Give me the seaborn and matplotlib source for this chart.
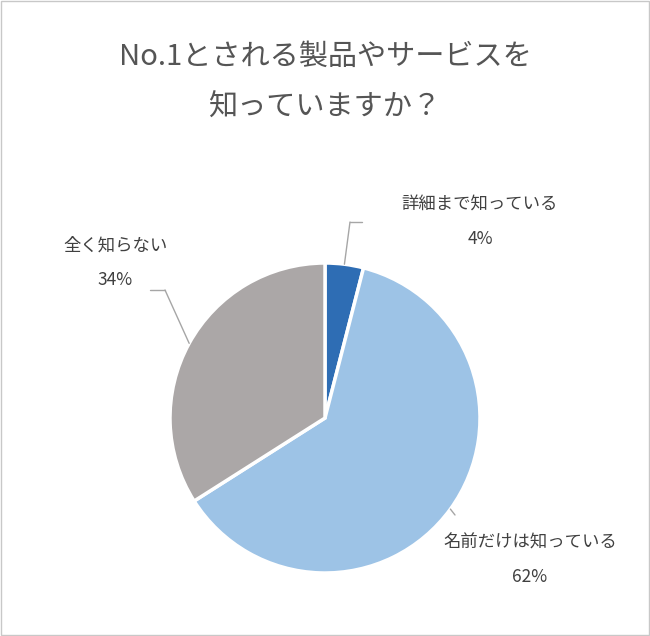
import numpy as np
import matplotlib
matplotlib.use("Agg")
import matplotlib.pyplot as plt
import seaborn as sns

labels = ["詳細まで知っている", "名前だけは知っている", "全く知らない"]
values = [4, 62, 34]
colors = ["#2E6DB4", "#9DC3E6", "#ABA7A7"]
title = "No.1とされる製品やサービスを\n知っていますか？"

sns.set_theme(style="white")
plt.rcParams['font.family'] = ['Noto Sans CJK JP', 'DejaVu Sans']

fig = plt.figure(figsize=(6.5, 6.36), dpi=100)
ax = fig.add_axes([0, 0, 1, 1])
ax.set_xlim(0, 650); ax.set_ylim(0, 636); ax.axis('off')
ax.add_patch(plt.Rectangle((1, 1), 648, 634, fill=False, ec="#C8C8C8", lw=1))

cx, cy, r = 325, 636 - 418, 155
wedges, _ = ax.pie(values, colors=colors, startangle=90, counterclock=False,
                   center=(cx, cy), radius=r, frame=True,
                   wedgeprops=dict(edgecolor="white", linewidth=2.5))
ax.set_xlim(0, 650); ax.set_ylim(0, 636); ax.axis('off')
ax.set_aspect('equal')

ax.text(325, 636 - 82, title, ha='center', va='center', fontsize=21,
        color="#555555", linespacing=1.9)

# label positions (pixel coords) and leader line elbows
lab_pos = [(480, 636 - 222), (530, 636 - 560), (115, 636 - 263)]
elbows = [(350, 636 - 222), (455, 636 - 515), (165, 636 - 290)]
for w, lab, v, lp, el in zip(wedges, labels, values, lab_pos, elbows):
    th = np.deg2rad((w.theta1 + w.theta2) / 2)
    ex, ey = cx + r * np.cos(th), cy + r * np.sin(th)
    ax.plot([ex, el[0]], [ey, el[1]], color="#A6A6A6", lw=1)
    if el[0] < cx:
        ax.plot([el[0], el[0] - 15], [el[1], el[1]], color="#A6A6A6", lw=1)
    else:
        ax.plot([el[0], el[0] + 12], [el[1], el[1]], color="#A6A6A6", lw=1) if v < 10 else None
    ax.text(lp[0], lp[1] + 17, lab, ha='center', va='center', fontsize=12.5, color="#404040")
    ax.text(lp[0], lp[1] - 17, f"{v}%", ha='center', va='center', fontsize=12.5, color="#404040")

fig.savefig("out.png", dpi=100)
